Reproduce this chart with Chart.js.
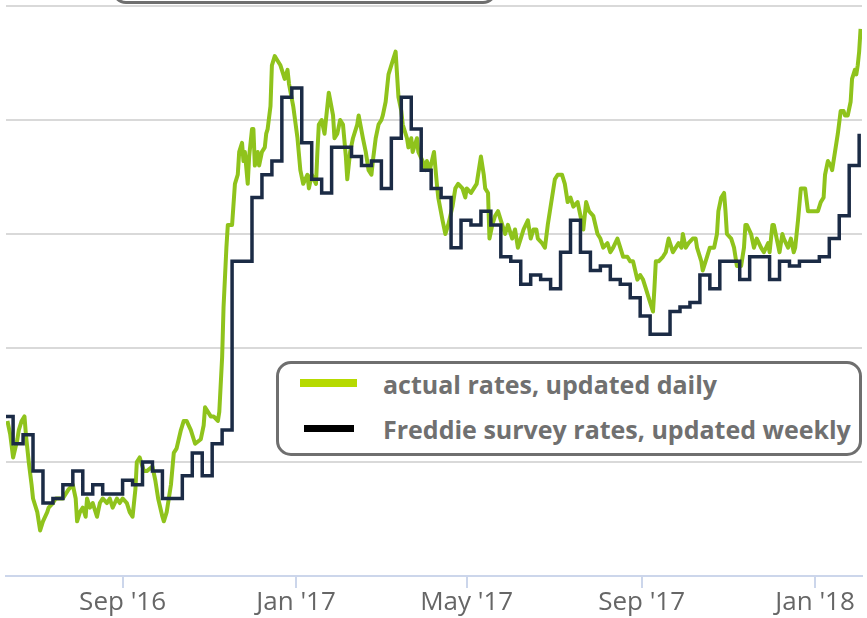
<!DOCTYPE html>
<html>
<head>
<meta charset="utf-8">
<script src="https://cdn.jsdelivr.net/npm/chart.js@4.4.1/dist/chart.umd.min.js"></script>
<style>
  html, body { margin: 0; padding: 0; background: #fff; overflow: hidden; }
  #wrap { position: relative; width: 867px; height: 618px; }
  #topbox {
    position: absolute; left: 112px; top: -50px; width: 385px; height: 54px;
    box-sizing: border-box; border: 3px solid #6f6f6f; border-radius: 14px; background: #fff;
  }
  #legend {
    position: absolute; left: 276px; top: 361px; width: 586px; height: 95px;
    box-sizing: border-box; border: 3px solid #6f6f6f; border-radius: 15px; background: #fff;
    font-family: "Open Sans", sans-serif; font-weight: bold; font-size: 25px; color: #707070;
  }
  .item { position: absolute; left: 0; height: 30px; line-height: 30px; white-space: nowrap; }
  .swatch { position: absolute; top: 11px; height: 7px; }
  .label { position: absolute; left: 104px; }
</style>
</head>
<body>
<div id="wrap">
  <canvas id="chart" width="867" height="618"></canvas>
  <div id="topbox"></div>
  <div id="legend"></div>
</div>
<script>
// x values are days counted from 1 June 2016
const BASE = Date.UTC(2016, 5, 1);
function dayOf(s) {
  const p = s.split('-').map(Number);
  return (Date.UTC(p[0], p[1] - 1, p[2]) - BASE) / 86400000;
}

const seriesNames = ['actual rates, updated daily', 'Freddie survey rates, updated weekly'];

// axis ticks
const tickDates = ['2016-09-01', '2017-01-01', '2017-05-01', '2017-09-01', '2018-01-01'];
const tickLabels = ["Sep '16", "Jan '17", "May '17", "Sep '17", "Jan '18"];

// Freddie Mac weekly survey
const freddieDates = [
  '2016-06-09','2016-06-16','2016-06-23','2016-06-30','2016-07-07','2016-07-14','2016-07-21','2016-07-28',
  '2016-08-04','2016-08-11','2016-08-18','2016-08-25','2016-09-01','2016-09-08','2016-09-15','2016-09-22',
  '2016-09-29','2016-10-06','2016-10-13','2016-10-20','2016-10-27','2016-11-03','2016-11-10','2016-11-17',
  '2016-11-23','2016-12-01','2016-12-08','2016-12-15','2016-12-22','2016-12-29','2017-01-05','2017-01-12',
  '2017-01-19','2017-01-26','2017-02-02','2017-02-09','2017-02-16','2017-02-23','2017-03-02','2017-03-09',
  '2017-03-16','2017-03-23','2017-03-30','2017-04-06','2017-04-13','2017-04-20','2017-04-27','2017-05-04',
  '2017-05-11','2017-05-18','2017-05-25','2017-06-01','2017-06-08','2017-06-15','2017-06-22','2017-06-29',
  '2017-07-06','2017-07-13','2017-07-20','2017-07-27','2017-08-03','2017-08-10','2017-08-17','2017-08-24',
  '2017-08-31','2017-09-07','2017-09-14','2017-09-21','2017-09-28','2017-10-05','2017-10-12','2017-10-19',
  '2017-10-26','2017-11-02','2017-11-09','2017-11-16','2017-11-22','2017-11-30','2017-12-07','2017-12-14',
  '2017-12-21','2017-12-28','2018-01-04','2018-01-11','2018-01-18','2018-01-25','2018-02-01'
];
const freddieRates = [
  3.60, 3.54, 3.56, 3.48, 3.41, 3.42, 3.45, 3.48,
  3.43, 3.45, 3.43, 3.43, 3.46, 3.45, 3.50, 3.48,
  3.42, 3.42, 3.47, 3.52, 3.47, 3.54, 3.57, 3.94,
  3.94, 4.08, 4.13, 4.16, 4.30, 4.32, 4.20, 4.12,
  4.09, 4.19, 4.19, 4.17, 4.15, 4.16, 4.10, 4.21,
  4.30, 4.23, 4.14, 4.10, 4.08, 3.97, 4.03, 4.02,
  4.05, 4.02, 3.95, 3.94, 3.89, 3.91, 3.90, 3.88,
  3.96, 4.03, 3.96, 3.92, 3.93, 3.90, 3.89, 3.86,
  3.82, 3.78, 3.78, 3.83, 3.84, 3.85, 3.91, 3.88,
  3.94, 3.94, 3.90, 3.95, 3.95, 3.90, 3.94, 3.93,
  3.94, 3.94, 3.95, 3.99, 4.04, 4.15, 4.22
];

// daily rates (day number, rate)
const actualDay = [
  11,13,15,18,19,21,23,24,26,28,29,32,34,36,39,40,43,45,47,50,52,54,57,59,60,62,64,66,67,69,
  71,74,76,78,81,83,85,88,90,92,95,97,99,101,102,104,107,109,113,115,117,120,121,123,126,128,130,133,135,137,
  140,143,147,149,150,152,154,156,159,160,162,163,165,166,169,171,173,174,176,177,178,180,181,183,184,185,187,188,190,192,
  193,194,196,197,199,201,203,205,206,208,209,212,215,217,219,222,223,225,228,229,230,232,234,236,237,240,241,243,245,247,
  249,250,252,254,257,258,261,263,265,267,268,270,272,274,275,277,279,282,284,285,286,288,289,292,293,295,296,299,300,303,
  305,306,308,311,313,314,317,319,321,324,326,328,331,333,334,337,339,341,343,344,346,347,349,350,352,354,356,359,361,363,
  366,368,370,372,374,377,379,381,383,384,387,389,391,394,396,398,401,403,405,407,409,412,414,416,418,420,423,426,428,430,
  433,435,437,440,442,444,447,449,451,454,456,458,460,462,465,466,467,469,472,474,476,478,479,481,483,485,486,488,490,493,
  495,496,499,500,503,505,508,510,511,513,515,516,517,520,522,523,524,527,529,530,531,534,536,538,541,543,546,547,549,550,
  552,554,556,557,560,562,564,565,567,569,571,572,574,576,579,581,583,585,586,588,590,591,593,595,597,599,600,602,604,605,
  607,608,609,610,611
];
const actualRate = [
  3.59,3.56,3.51,3.55,3.57,3.59,3.60,3.56,3.50,3.45,3.42,3.39,3.35,3.37,3.39,3.40,3.41,3.42,3.42,3.42,3.43,3.44,3.45,3.42,3.37,3.39,3.40,3.38,3.42,3.40,
  3.41,3.38,3.41,3.42,3.41,3.42,3.40,3.42,3.41,3.42,3.41,3.39,3.38,3.44,3.50,3.51,3.48,3.48,3.49,3.46,3.42,3.38,3.37,3.39,3.45,3.52,3.53,3.57,3.59,3.59,
  3.57,3.54,3.55,3.58,3.62,3.61,3.60,3.60,3.59,3.61,3.73,3.84,3.97,4.02,4.02,4.11,4.13,4.18,4.20,4.16,4.18,4.11,4.17,4.23,4.23,4.15,4.18,4.15,4.18,4.19,
  4.22,4.23,4.28,4.37,4.39,4.38,4.37,4.35,4.34,4.36,4.33,4.28,4.21,4.14,4.11,4.13,4.10,4.13,4.11,4.18,4.24,4.25,4.22,4.28,4.31,4.26,4.21,4.22,4.25,4.24,
  4.17,4.12,4.18,4.21,4.24,4.26,4.21,4.18,4.14,4.13,4.16,4.21,4.24,4.25,4.26,4.29,4.35,4.38,4.40,4.35,4.30,4.27,4.24,4.21,4.19,4.21,4.18,4.21,4.18,4.16,
  4.14,4.16,4.14,4.18,4.11,4.08,4.03,4.00,4.02,4.06,4.10,4.11,4.10,4.08,4.10,4.09,4.10,4.11,4.15,4.17,4.13,4.10,4.09,3.99,4.02,4.04,4.05,4.02,4.00,4.02,
  3.99,4.01,3.97,3.99,4.01,4.03,3.99,4.01,4.01,3.99,3.98,3.97,4.02,4.08,4.12,4.13,4.13,4.11,4.07,4.08,4.06,4.07,4.04,4.01,4.07,4.05,4.04,4.00,3.99,3.97,
  3.98,3.96,3.97,3.99,3.97,3.95,3.95,3.94,3.94,3.90,3.91,3.90,3.88,3.86,3.83,3.88,3.94,3.94,3.95,3.96,3.99,3.97,3.96,3.97,3.98,3.97,4.00,3.97,3.98,3.99,
  3.99,3.97,3.94,3.92,3.95,3.97,3.97,4.00,4.05,4.08,4.09,4.05,4.00,3.99,3.97,3.95,3.93,3.93,3.97,4.02,4.02,4.00,3.97,3.99,3.97,3.96,3.98,3.96,4.02,4.02,
  3.99,3.96,4.00,3.99,3.97,3.99,3.96,3.97,4.03,4.10,4.10,4.10,4.05,4.05,4.05,4.05,4.07,4.08,4.13,4.16,4.15,4.14,4.18,4.22,4.27,4.27,4.26,4.26,4.29,4.34,
  4.36,4.35,4.37,4.40,4.45
];

const yTicks = [3.25, 3.5, 3.75, 4.0, 4.25, 4.5];
const xMin = 10, xMax = 612;

const seriesColors = ['#8fc31c', '#1b2b45'];
const swatchColors = ['#b6da00', '#000000'];

const tickDays = tickDates.map(dayOf);

const ctx = document.getElementById('chart').getContext('2d');
new Chart(ctx, {
  type: 'line',
  data: {
    datasets: [{
      label: seriesNames[0],
      data: actualDay.map((d, i) => ({ x: d, y: actualRate[i] })),
      borderColor: seriesColors[0],
      borderWidth: 4,
      borderJoinStyle: 'round',
      pointRadius: 0,
      tension: 0,
      order: 1
    }, {
      label: seriesNames[1],
      data: freddieDates.map((d, i) => ({ x: dayOf(d), y: freddieRates[i] })),
      borderColor: seriesColors[1],
      borderWidth: 3.5,
      pointRadius: 0,
      stepped: true,
      order: 0
    }]
  },
  options: {
    responsive: false,
    animation: false,
    layout: { padding: { left: 6, right: 5, top: 6, bottom: 0 } },
    plugins: { legend: { display: false }, tooltip: { enabled: false } },
    scales: {
      x: {
        type: 'linear',
        min: xMin,
        max: xMax,
        afterBuildTicks: (scale) => { scale.ticks = tickDays.map(v => ({ value: v })); },
        afterFit: (scale) => { scale.height = 42; },
        border: { display: true, color: '#ccd6eb', width: 2 },
        grid: { display: true, drawOnChartArea: false, drawTicks: true, tickLength: 12, color: '#ccd6eb', lineWidth: 2 },
        ticks: {
          autoSkip: false,
          maxRotation: 0,
          padding: -1,
          color: '#666666',
          font: { family: 'Open Sans', size: 26 },
          callback: (v) => { const i = tickDays.indexOf(v); return i >= 0 ? tickLabels[i] : ''; }
        }
      },
      y: {
        min: yTicks[0],
        max: yTicks[yTicks.length - 1],
        afterBuildTicks: (scale) => { scale.ticks = yTicks.map(v => ({ value: v })); },
        afterFit: (scale) => { scale.width = 0; },
        border: { display: false },
        grid: {
          drawTicks: false,
          lineWidth: 2,
          color: (c) => c.tick && c.tick.value === yTicks[0] ? 'rgba(0,0,0,0)' : '#d9d9d9'
        },
        ticks: { display: false }
      }
    }
  }
});

// legend box
const legend = document.getElementById('legend');
const rows = [
  { top: 5, swLeft: 21, swWidth: 57, swTop: 10, swH: 8 },
  { top: 50, swLeft: 25, swWidth: 50, swTop: 11, swH: 7 }
];
seriesNames.forEach((name, i) => {
  const it = document.createElement('div');
  it.className = 'item';
  it.style.top = rows[i].top + 'px';
  const sw = document.createElement('div');
  sw.className = 'swatch';
  sw.style.left = rows[i].swLeft + 'px';
  sw.style.width = rows[i].swWidth + 'px';
  sw.style.top = rows[i].swTop + 'px';
  sw.style.height = rows[i].swH + 'px';
  sw.style.background = swatchColors[i];
  const lb = document.createElement('span');
  lb.className = 'label';
  lb.textContent = name;
  it.appendChild(sw);
  it.appendChild(lb);
  legend.appendChild(it);
});
</script>
</body>
</html>
